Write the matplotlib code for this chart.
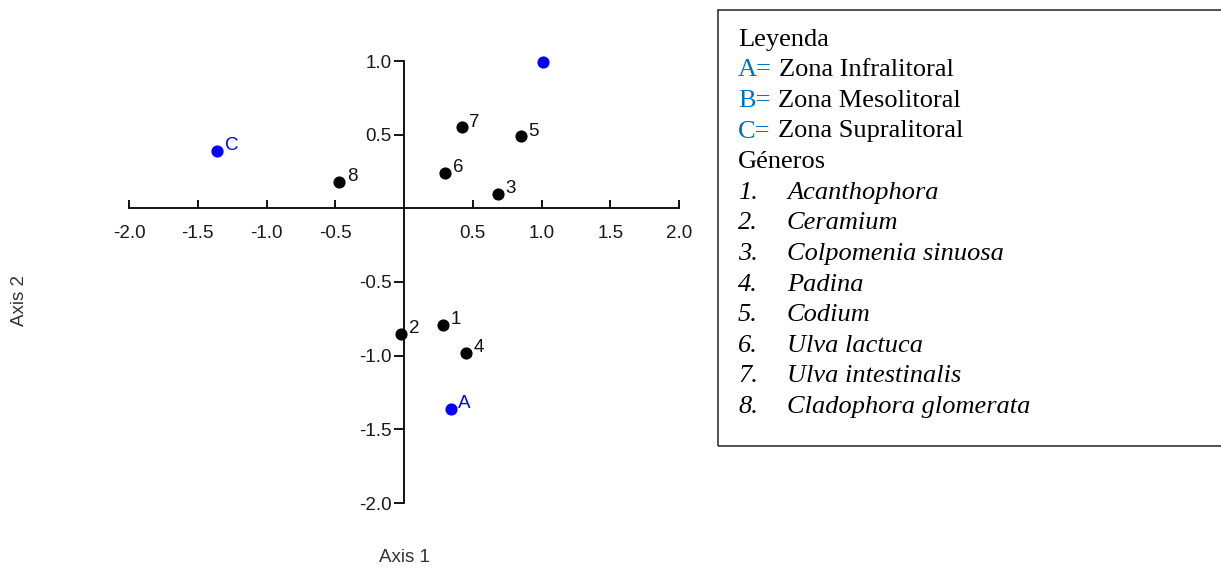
import matplotlib
matplotlib.use("Agg")
import matplotlib.pyplot as plt
from matplotlib.patches import Rectangle

# ---- data ----
species_labels = ["1", "2", "3", "4", "5", "6", "7", "8"]
species_x = [0.28, -0.02, 0.68, 0.45, 0.85, 0.30, 0.42, -0.47]
species_y = [-0.79, -0.85, 0.10, -0.98, 0.49, 0.24, 0.55, 0.18]

zone_labels = ["A", "", "C"]
zone_x = [0.34, 1.01, -1.36]
zone_y = [-1.36, 0.99, 0.39]

x_ticks = [-2.0, -1.5, -1.0, -0.5, 0.5, 1.0, 1.5, 2.0]
y_ticks = [-2.0, -1.5, -1.0, -0.5, 0.5, 1.0]

legend_title = "Leyenda"
zone_prefix = ["A=", "B=", "C="]
zone_names = ["Zona Infralitoral", "Zona Mesolitoral", "Zona Supralitoral"]
genera_title = "Géneros"
genera_names = ["Acanthophora", "Ceramium", "Colpomenia sinuosa", "Padina",
                "Codium", "Ulva lactuca", "Ulva intestinalis", "Cladophora glomerata"]

W, H = 1221, 567
fig = plt.figure(figsize=(W / 100, H / 100), dpi=100)
ax = fig.add_axes([129 / W, 1 - 503 / H, 550 / W, 442 / H])
ax.set_xlim(-2.0, 2.0)
ax.set_ylim(-2.0, 1.0)

for s in ["top", "right"]:
    ax.spines[s].set_visible(False)
ax.spines["left"].set_position(("data", 0))
ax.spines["bottom"].set_position(("data", 0))
for s in ["left", "bottom"]:
    ax.spines[s].set_linewidth(1.3)
    ax.spines[s].set_color("black")

sans = "Liberation Sans"
tfs = 13.5
ax.set_xticks(x_ticks)
ax.set_yticks(y_ticks)
ax.set_xticklabels([f"{v:.1f}" for v in x_ticks], fontfamily=sans, fontsize=tfs, color="#1a1a1a")
ax.set_yticklabels([f"{v:.1f}" for v in y_ticks], fontfamily=sans, fontsize=tfs, color="#1a1a1a")
ax.tick_params(axis="x", direction="in", length=6, width=1.3, pad=12)
ax.tick_params(axis="y", direction="out", length=7, width=1.3, pad=2)

ax.scatter(species_x, species_y, s=60, color="black", zorder=3, clip_on=False)
for lab, x, y in zip(species_labels, species_x, species_y):
    ax.annotate(lab, (x, y), xytext=(5.5, -2.5), textcoords="offset points",
                ha="left", va="bottom", fontsize=tfs, fontfamily=sans, color="#111111",
                annotation_clip=False)

ax.scatter(zone_x, zone_y, s=60, color="#0000ff", zorder=3, clip_on=False)
for lab, x, y in zip(zone_labels, zone_x, zone_y):
    if lab:
        ax.annotate(lab, (x, y), xytext=(5.5, -2.5), textcoords="offset points",
                    ha="left", va="bottom", fontsize=tfs, fontfamily=sans, color="#0000ff",
                    annotation_clip=False)

fig.text(404 / W, 1 - 557 / H, "Axis 1", ha="center", va="center",
         fontsize=tfs, fontfamily=sans, color="#333333")
fig.text(20 / W, 1 - 300 / H, "Axis 2", ha="center", va="center", rotation=90,
         fontsize=tfs, fontfamily=sans, color="#333333")

# ---- legend box ----
fig.patches.append(Rectangle((718 / W, 1 - 446 / H), (1230 - 718) / W, 436 / H,
                             transform=fig.transFigure, fill=False,
                             edgecolor="#333333", linewidth=1.2))
serif = "Liberation Serif"
fs = 19
x0 = 738 / W
def ypos(i):
    return 1 - (45.7 + i * 30.6) / H

fig.text(x0, ypos(0), legend_title, fontsize=fs, fontfamily=serif, va="baseline")
zone_name_x = [779, 778, 778]
for i, (p, n) in enumerate(zip(zone_prefix, zone_names)):
    fig.text(x0, ypos(1 + i), p, fontsize=fs, fontfamily=serif, va="baseline", color="#0070c0")
    fig.text(zone_name_x[i] / W, ypos(1 + i), n, fontsize=fs, fontfamily=serif, va="baseline")
fig.text(x0, ypos(4), genera_title, fontsize=fs, fontfamily=serif, va="baseline")
for i, n in enumerate(genera_names):
    fig.text(x0, ypos(5 + i), f"{i + 1}.", fontsize=fs, fontfamily=serif,
             style="italic", va="baseline")
    fig.text(787 / W, ypos(5 + i), n, fontsize=fs, fontfamily=serif,
             style="italic", va="baseline")

fig.savefig("out.png", dpi=100)
